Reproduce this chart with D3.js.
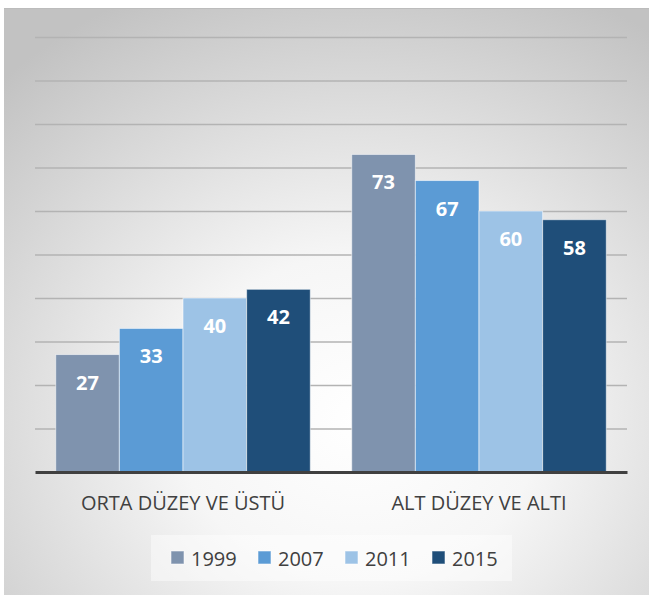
<!DOCTYPE html>
<html>
<head>
<meta charset="utf-8">
<script src="https://cdn.jsdelivr.net/npm/d3@7"></script>
<style>
  body { margin:0; background:#fff; }
  svg { display:block; font-family:"Open Sans", sans-serif; }
</style>
</head>
<body>
<div id="canvas"></div>
<script>
// data
var categories = ["ORTA DÜZEY VE ÜSTÜ", "ALT DÜZEY VE ALTI"];
var years = ["1999", "2007", "2011", "2015"];
var v1999 = [27, 73];
var v2007 = [33, 67];
var v2011 = [40, 60];
var v2015 = [42, 58];
var yMax = 100;

var colors = ["#7f93ae", "#5b9bd5", "#9dc3e6", "#1f4e79"];
var series = [v1999, v2007, v2011, v2015];

var W = 649, H = 595;
var m = {t:37, r:22, b:123, l:35};
var w = W - m.l - m.r, h = H - m.t - m.b;

var svg = d3.select('#canvas').append('svg')
    .attr('width', W).attr('height', H);

// background radial gradient
var defs = svg.append('defs');
var grad = defs.append('radialGradient').attr('id','bg')
    .attr('cx','0.55').attr('cy','0.7').attr('r','0.8');
grad.append('stop').attr('offset','0').attr('stop-color','#ffffff');
grad.append('stop').attr('offset','0.35').attr('stop-color','#f6f6f6');
grad.append('stop').attr('offset','1').attr('stop-color','#c2c2c2');

svg.append('rect').attr('x',4).attr('y',8).attr('width',W-4).attr('height',H-8)
    .attr('fill','url(#bg)');
svg.append('line').attr('x1',4).attr('x2',W).attr('y1',8.5).attr('y2',8.5)
    .attr('stroke','#bcbcbc').attr('stroke-width',1);

var plot = svg.append('g').attr('transform','translate(' + m.l + ',' + m.t + ')');

var x0 = d3.scaleBand().domain(categories).range([0, w])
    .paddingInner(0.14).paddingOuter(0.07);
var x1 = d3.scaleBand().domain(years).range([0, x0.bandwidth()]).padding(0);
var y = d3.scaleLinear().domain([0, yMax]).range([h, 0]);

// gridlines
var axisY = d3.axisLeft(y).ticks(10).tickSize(-w).tickFormat('');
var gy = plot.append('g').attr('class','grid').call(axisY);
gy.select('.domain').remove();
gy.selectAll('.tick line').attr('stroke','#b3b3b3').attr('stroke-width',1.5);
gy.selectAll('.tick').filter(function(d){ return d === 0; }).remove();

// bars
var rows = [];
categories.forEach(function(c, i){
  years.forEach(function(yr, j){
    rows.push({cat:c, year:yr, value:series[j][i], color:colors[j]});
  });
});

plot.selectAll('rect.bar').data(rows).enter().append('rect')
    .attr('class','bar')
    .attr('x', function(d){ return x0(d.cat) + x1(d.year); })
    .attr('y', function(d){ return y(d.value); })
    .attr('width', x1.bandwidth())
    .attr('height', function(d){ return h - y(d.value); })
    .attr('fill', function(d){ return d.color; })
    .attr('stroke', 'rgba(255,255,255,0.55)')
    .attr('stroke-width', 1);

plot.selectAll('text.val').data(rows).enter().append('text')
    .attr('class','val')
    .attr('x', function(d){ return x0(d.cat) + x1(d.year) + x1.bandwidth()/2; })
    .attr('y', function(d){ return y(d.value) + 35; })
    .attr('text-anchor','middle')
    .attr('fill','#fff').attr('font-weight','bold').attr('font-size',20)
    .text(function(d){ return d.value; });

// baseline + category axis
var axisX = d3.axisBottom(x0).tickSize(0).tickPadding(24);
var gx = plot.append('g').attr('transform','translate(0,' + h + ')').call(axisX);
gx.select('.domain').attr('stroke','#404040').attr('stroke-width',3);
gx.selectAll('text').attr('fill','#404040').attr('font-size',20)
    .attr('font-family','"Open Sans", sans-serif').attr('dy','0.7em');

// legend
var leg = svg.append('g');
leg.append('rect').attr('x',151).attr('y',535).attr('width',361).attr('height',46)
    .attr('fill','#ffffff').attr('fill-opacity',0.45);
var li = leg.selectAll('g.item').data(years).enter().append('g')
    .attr('class','item')
    .attr('transform', function(d, i){ return 'translate(' + (171 + i*87) + ',551)'; });
li.append('rect').attr('width',13).attr('height',13)
    .attr('fill', function(d, i){ return colors[i]; })
    .attr('stroke','rgba(255,255,255,0.55)');
li.append('text').attr('x',20).attr('y',15)
    .attr('fill','#404040').attr('font-size',20)
    .text(function(d){ return d; });
</script>
</body>
</html>
